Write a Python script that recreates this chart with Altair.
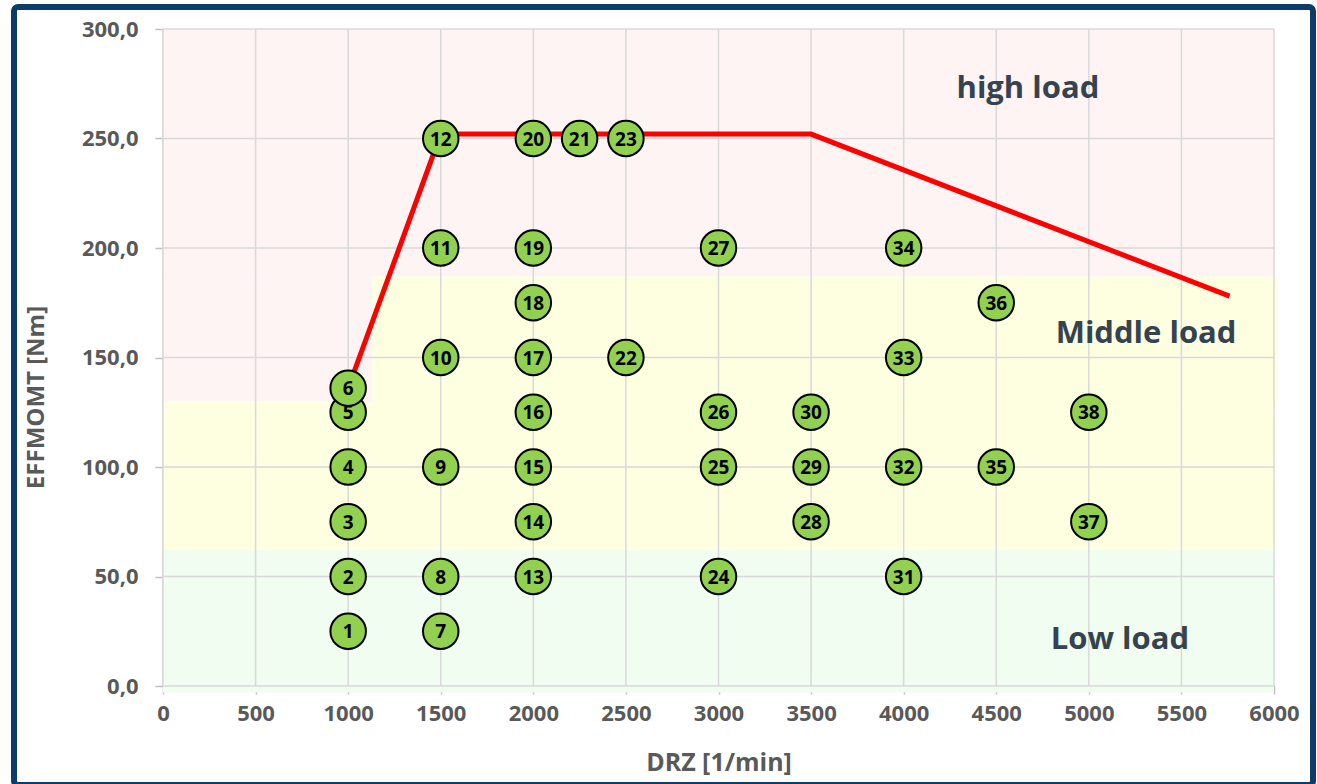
import altair as alt
import pandas as pd

# ---- data ----
pt_id = [str(i) for i in range(1, 39)]
pt_x = [1000, 1000, 1000, 1000, 1000, 1000,
        1500, 1500, 1500, 1500, 1500, 1500,
        2000, 2000, 2000, 2000, 2000, 2000, 2000, 2000,
        2250, 2500, 2500,
        3000, 3000, 3000, 3000,
        3500, 3500, 3500,
        4000, 4000, 4000, 4000,
        4500, 4500,
        5000, 5000]
pt_y = [25, 50, 75, 100, 125, 136,
        25, 50, 100, 150, 200, 250,
        50, 75, 100, 125, 150, 175, 200, 250,
        250, 150, 250,
        50, 100, 125, 200,
        75, 100, 125,
        50, 100, 150, 200,
        100, 175,
        75, 125]

limit_x = [1000, 1500, 3500, 5760]
limit_y = [136, 252, 252, 178]

band_x0 = [0, 0, 0, 1130, 0]
band_x1 = [6000, 1130, 6000, 6020, 6000]
band_y0 = [187, 130, 62, 130, -3]
band_y1 = [300, 187, 130, 187, 62]
band_col = ["#fef4f4", "#fef4f4", "#fefee1", "#fefee1", "#f0fdf0"]

zone_text = ["high load", "Middle load", "Low load"]
zone_x = [4671, 5309, 5168]
zone_y = [268.5, 156.6, 16.9]

x_ticks = list(range(0, 6001, 500))
y_ticks = list(range(0, 301, 50))

# ---- tables ----
pts = pd.DataFrame({"id": pt_id, "x": pt_x, "y": pt_y})
lim = pd.DataFrame({"x": limit_x, "y": limit_y, "o": list(range(len(limit_x)))})
bands = pd.DataFrame({"x0": band_x0, "x1": band_x1, "y0": band_y0, "y1": band_y1, "c": band_col})
zones = pd.DataFrame({"t": zone_text, "x": zone_x, "y": zone_y})
xt = pd.DataFrame({"v": x_ticks})
yt = pd.DataFrame({"v": y_ticks})
one = pd.DataFrame({"k": [0]})

FONT = "Open Sans"
xs = alt.Scale(domain=[0, 6000], nice=False, zero=False)
ys = alt.Scale(domain=[0, 300], nice=False, zero=False)

xaxis = alt.Axis(values=x_ticks, title="DRZ [1/min]", grid=False, labelFlush=False,
                 labelOverlap=False, labelPadding=9, format="d",
                 titleY=84, titleBaseline="alphabetic", titleFontSize=25)
yaxis = alt.Axis(values=y_ticks, title="EFFMOMT [Nm]", grid=False, labelFlush=False,
                 labelOverlap=False, labelPadding=17,
                 labelExpr="replace(format(datum.value, '.1f'), '.', ',')",
                 titleX=-127, titleY=368, titleAngle=270, titleAlign="center",
                 titleBaseline="middle", titleFontSize=24)

band_layer = alt.Chart(bands).mark_rect().encode(
    x=alt.X("x0:Q", scale=xs, axis=xaxis), x2="x1:Q",
    y=alt.Y("y0:Q", scale=ys, axis=yaxis), y2="y1:Q",
    color=alt.Color("c:N", scale=None),
)

vgrid = alt.Chart(xt).mark_rule(color="#d9d9d9", strokeWidth=1.5).encode(
    x=alt.X("v:Q", scale=xs, axis=xaxis))
hgrid = alt.Chart(yt).mark_rule(color="#d9d9d9", strokeWidth=1.5).encode(
    y=alt.Y("v:Q", scale=ys, axis=yaxis))

line = alt.Chart(lim).mark_line(color="#ff0000", strokeWidth=5).encode(
    x=alt.X("x:Q", scale=xs, axis=xaxis),
    y=alt.Y("y:Q", scale=ys, axis=yaxis),
    order="o:Q",
)

circles = alt.Chart(pts).mark_point(shape="circle", filled=True, fill="#92d050",
                                    stroke="#000000", strokeWidth=2, size=1260,
                                    opacity=1).encode(
    x=alt.X("x:Q", scale=xs, axis=xaxis),
    y=alt.Y("y:Q", scale=ys, axis=yaxis),
)

labels = alt.Chart(pts).mark_text(font=FONT, fontWeight="bold", fontSize=19,
                                  color="#000000", baseline="middle", dy=1).encode(
    x=alt.X("x:Q", scale=xs, axis=xaxis),
    y=alt.Y("y:Q", scale=ys, axis=yaxis),
    text="id:N",
)

zone_labels = alt.Chart(zones).mark_text(font=FONT, fontWeight="bold", fontSize=31,
                                         color="#34434f", baseline="alphabetic",
                                         align="center").encode(
    x=alt.X("x:Q", scale=xs, axis=xaxis),
    y=alt.Y("y:Q", scale=ys, axis=yaxis),
    text="t:N",
)

frame = alt.Chart(one).mark_rect(fill="transparent", stroke="#0c3d69", strokeWidth=6,
                                 cornerRadius=4).encode(
    x=alt.value(-149), x2=alt.value(1150), y=alt.value(-22), y2=alt.value(756))

chart = alt.layer(band_layer, vgrid, hgrid, line, circles, labels, zone_labels, frame).properties(
    width=1111, height=657,
    autosize=alt.AutoSizeParams(type="none"),
    padding={"left": 163, "top": 29, "right": 43, "bottom": 98},
    background="#ffffff",
).configure_view(stroke=None).configure_axis(
    labelFont=FONT, labelFontWeight="bold", labelFontSize=22, labelColor="#595959",
    titleFont=FONT, titleFontWeight="bold", titleColor="#595959",
    domainColor="#bfbfbf", domainWidth=2, tickColor="#bfbfbf", tickWidth=1.5,
    tickSize=8, zindex=1,
)

chart.save("out.html", embed_options={"renderer": "svg", "actions": False})
